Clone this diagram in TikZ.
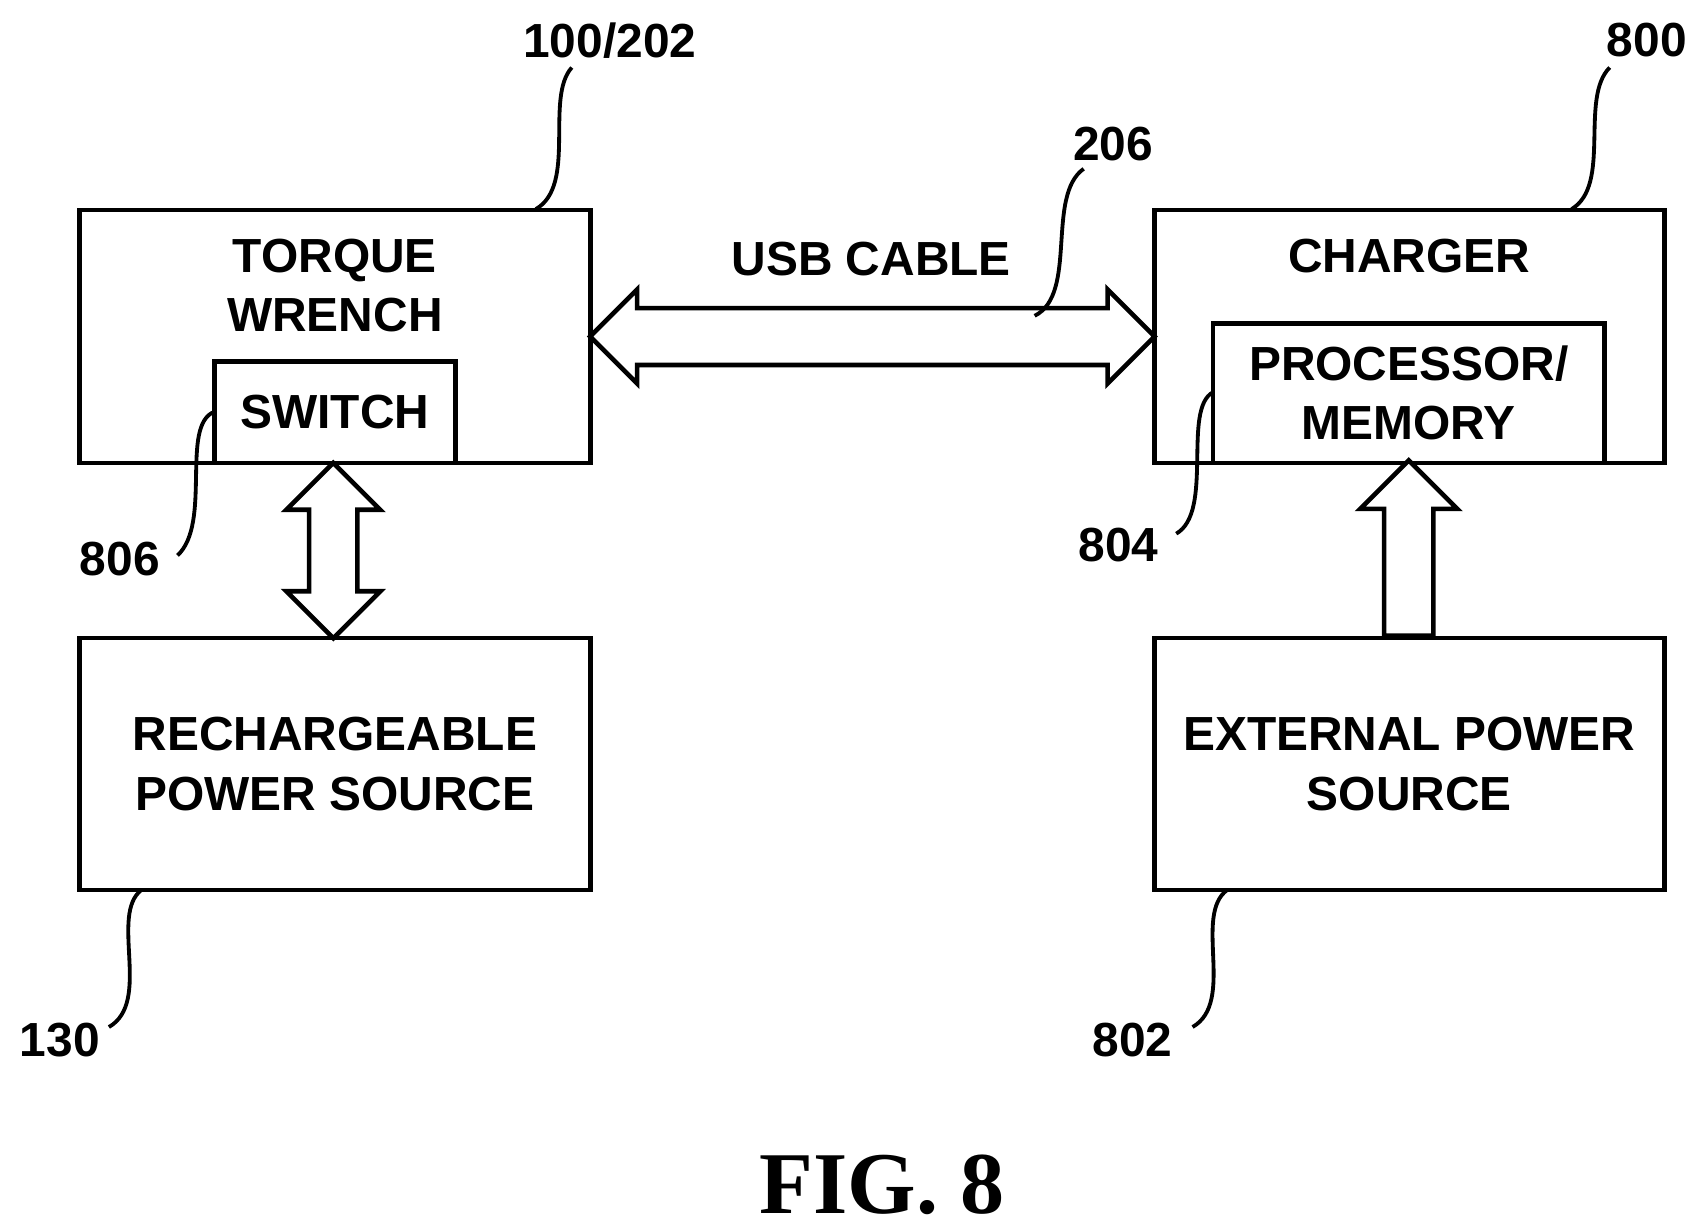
\documentclass[tikz,border=0pt]{standalone}
\usepackage{fontspec}
\setmainfont{Liberation Sans}
\newfontfamily\figfont{Liberation Serif}
\usetikzlibrary{shapes.arrows}
\tikzset{
  blk/.style={draw, line width=1.2pt, inner sep=0pt, font=\bfseries\fontsize{12.5}{15.5}\selectfont, align=center},
  txt/.style={inner sep=0pt, font=\bfseries\fontsize{12.5}{15.5}\selectfont, align=center},
  fat/.style={draw, line width=1.2pt, fill=white, inner xsep=0pt},
  lead/.style={line width=1pt},
  num/.style={font=\bfseries\fontsize{12.5}{15}\selectfont}
}
\begin{document}
\begin{tikzpicture}[x=0.01cm,y=-0.01cm]
  \useasboundingbox (0,0) rectangle (1560,1128);
  % boxes
  \node[blk, minimum width=4.69cm, minimum height=2.32cm] (tw) at (307.5,309) {};
  \node[txt] at (307.5,262) {TORQUE\\WRENCH};
  \node[blk, minimum width=2.21cm, minimum height=0.93cm] (sw) at (307.5,378.5) {SWITCH};
  \node[blk, minimum width=4.69cm, minimum height=2.31cm] (rps) at (307.5,701.5) {RECHARGEABLE\\POWER SOURCE};
  \node[blk, minimum width=4.68cm, minimum height=2.32cm] (ch) at (1294,309) {};
  \node[txt] at (1294,235) {CHARGER};
  \node[blk, minimum width=3.59cm, minimum height=1.28cm] (pm) at (1293.5,361) {PROCESSOR/\\MEMORY};
  \node[blk, minimum width=4.68cm, minimum height=2.31cm] (eps) at (1294,701.5) {EXTERNAL POWER\\SOURCE};
  % fat arrows
  \node[fat, double arrow, inner ysep=0.24cm, minimum height=5.18cm, double arrow head extend=0.17cm] (usb) at (801,309) {};
  \node[txt] at (800,238) {USB CABLE};
  \node[fat, double arrow, rotate=90, inner ysep=0.20cm, minimum height=1.61cm, double arrow head extend=0.21cm] (swp) at (306,505.5) {};
  \node[fat, single arrow, rotate=90, inner ysep=0.205cm, minimum height=1.61cm, single arrow head extend=0.22cm] (up) at (1293.5,514.5) {};
  % reference numerals
  \node[num] (n100) at (560,37) {100/202};
  \node[num] (n800) at (1512,37) {800};
  \node[num] (n206) at (1022,132) {206};
  \node[num] (n806) at (110,513) {806};
  \node[num] (n804) at (1027,500) {804};
  \node[num] (n130) at (55,955) {130};
  \node[num] (n802) at (1040,955) {802};
  \draw[lead] (492,192) .. controls (530,170) and (500,90) .. (525,62);
  \draw[lead] (1443,192) .. controls (1480,170) and (1450,90) .. (1478,62);
  \draw[lead] (950,290) .. controls (990,270) and (960,180) .. (995,155);
  \draw[lead] (197,378) .. controls (165,390) and (195,480) .. (163,510);
  \draw[lead] (1114,360) .. controls (1085,375) and (1115,470) .. (1080,490);
  \draw[lead] (130,817) .. controls (100,840) and (140,920) .. (100,943);
  \draw[lead] (1127,817) .. controls (1095,840) and (1135,920) .. (1095,943);
  \node[font=\figfont\bfseries\fontsize{23}{26}\selectfont] (fig) at (810,1088) {FIG. 8};
\end{tikzpicture}
\end{document}
